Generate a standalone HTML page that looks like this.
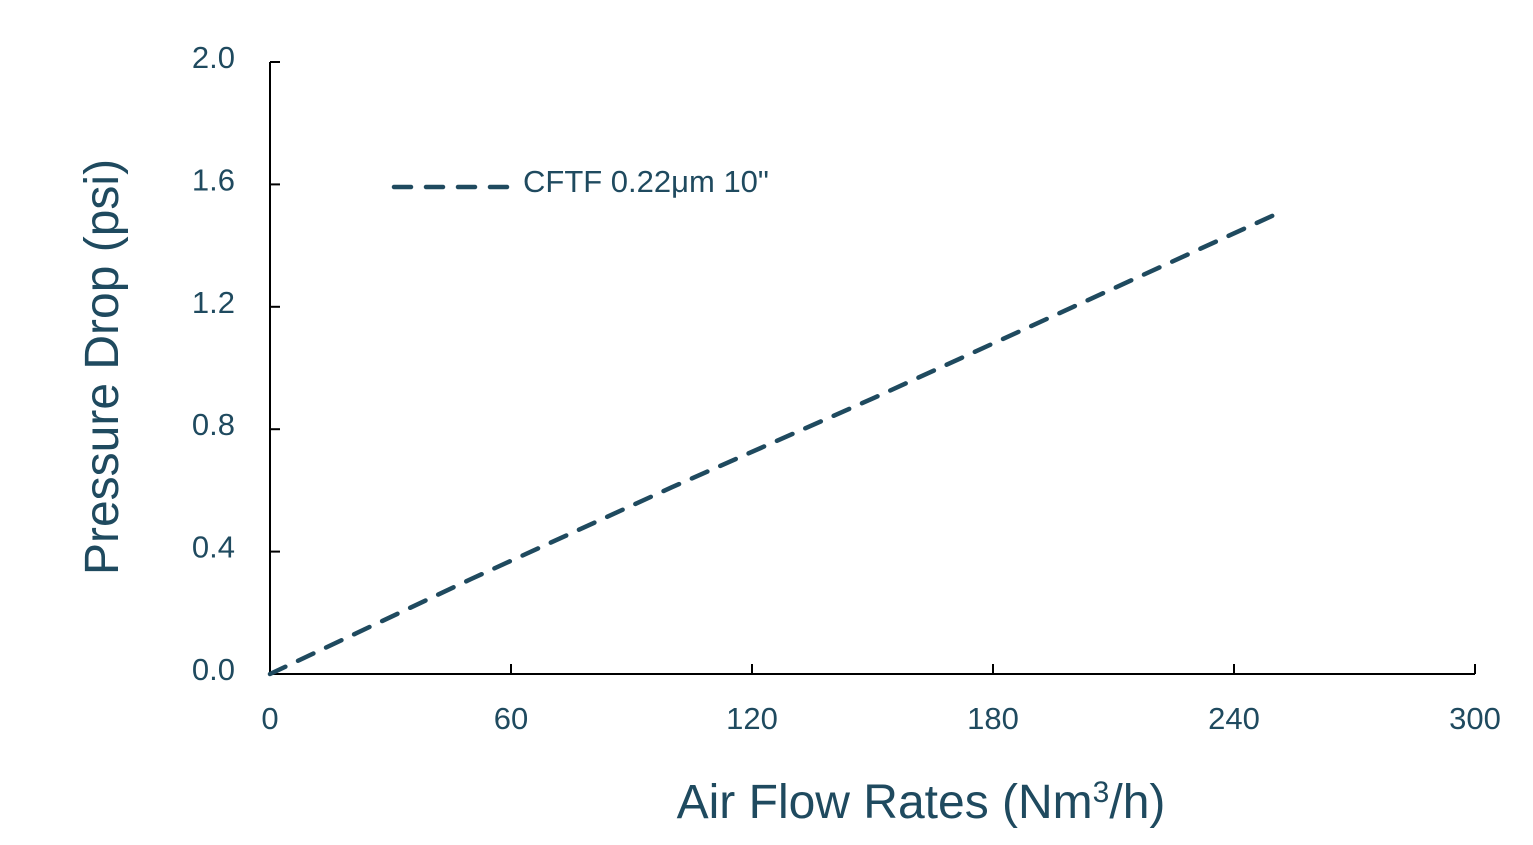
<!DOCTYPE html>
<html><head><meta charset="utf-8"><style>
html,body{margin:0;padding:0;background:#fff;}
svg{display:block;font-family:"Liberation Sans",sans-serif;}
</style></head><body>
<svg id="chart" width="1533" height="845" viewBox="0 0 1533 845" xmlns="http://www.w3.org/2000/svg"></svg>
<script>
const xTicks=[0,60,120,180,240,300];
const yTicks=[0.0,0.4,0.8,1.2,1.6,2.0];
const yTickLabels=["0.0","0.4","0.8","1.2","1.6","2.0"];
const seriesX=[0,50,100,150,200,250];
const seriesY=[0,0.31,0.61,0.9,1.2,1.5];
const seriesName="CFTF 0.22μm 10\"";
const NS="http://www.w3.org/2000/svg";
const svg=document.getElementById('chart');
const X0=270,X1=1475,Y0=674,Y1=62;
const sx=v=>X0+(v-0)/(300-0)*(X1-X0);
const sy=v=>Y0-(v-0)/(2-0)*(Y0-Y1);
const col="#1f4a5f";
function mk(t,a,txt){const e=document.createElementNS(NS,t);for(const k in a)e.setAttribute(k,a[k]);if(txt!=null)e.textContent=txt;svg.appendChild(e);return e;}
let e;
e=mk('line',{x1:X0,y1:Y0,x2:X1,y2:Y0,stroke:'#000','stroke-width':2});


e=mk('line',{x1:X0,y1:Y0,x2:X0,y2:Y1,stroke:'#000','stroke-width':2});


xTicks.forEach(v=>{
 e=mk('line',{x1:sx(v),y1:Y0,x2:sx(v),y2:Y0-10,stroke:'#000','stroke-width':2});
 
 
 e=mk('text',{x:sx(v),y:729,'text-anchor':'middle','font-size':31,fill:col},String(v));
 
 
});
yTicks.forEach((v,i)=>{
 e=mk('line',{x1:X0,y1:sy(v),x2:X0+10,y2:sy(v),stroke:'#000','stroke-width':2});
 
 
 e=mk('text',{x:235,y:sy(v)+6,'text-anchor':'end','font-size':31,fill:col},yTickLabels[i]);
 
 
});
const pts=seriesX.map((x,i)=>sx(x)+','+sy(seriesY[i])).join(' ');
e=mk('polyline',{points:pts,fill:'none',stroke:col,'stroke-width':4.5,'stroke-dasharray':'17 14','stroke-linecap':'round'});


e=mk('line',{x1:394,y1:187,x2:512,y2:187,stroke:col,'stroke-width':4.5,'stroke-dasharray':'17 15','stroke-linecap':'round'});


e=mk('text',{x:523,y:192,'font-size':31,fill:col},seriesName);


e=mk('text',{x:921,y:818,'text-anchor':'middle','font-size':48,fill:col});
e.innerHTML='Air Flow Rates (Nm<tspan dy="-16" font-size="30">3</tspan><tspan dy="16">/h)</tspan>';


e=mk('text',{x:0,y:0,'text-anchor':'middle','font-size':48,fill:col,transform:'translate(118,367) rotate(-90)'},'Pressure Drop (psi)');


</script>
</body></html>
